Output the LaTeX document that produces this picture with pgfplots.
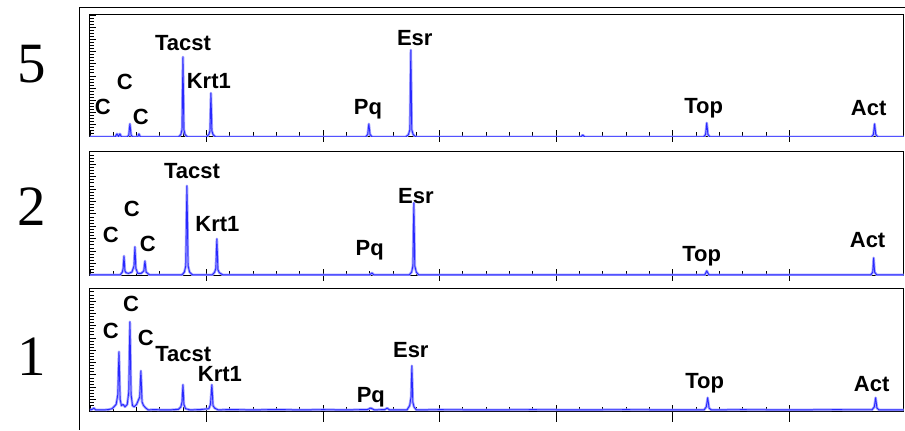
\documentclass[border=0pt]{standalone}
\usepackage{pgfplots}
\usepackage{pgfplotstable}
\pgfplotsset{compat=1.18}
\usepackage{fontspec}
\setmainfont{Liberation Sans}
\newfontfamily\numfont{Liberation Serif}

\definecolor{tracecol}{RGB}{40,40,255}
\definecolor{halocol}{RGB}{165,165,255}

% panel "5"
\pgfplotstableread{
x y
0 0
0.215 0
0.232 2.5
0.245 0.3
0.257 2.5
0.27 0
0.32 0
0.333 1.5
0.343 10.7
0.353 1.5
0.366 0
0.41 0
0.42 2.5
0.432 0
0.76 0
0.78 2
0.79 6
0.798 65.6
0.806 6
0.816 2
0.836 0
1.0 0
1.02 2
1.03 5
1.038 36
1.046 5
1.056 2
1.076 0
2.365 0
2.383 2
2.393 10.7
2.403 2
2.421 0
2.71 0
2.733 2
2.745 6
2.753 71.3
2.761 6
2.773 2
2.796 0
4.21 0
4.228 1.5
4.246 0
5.265 0
5.282 2
5.292 11.5
5.302 2
5.319 0
6.705 0
6.722 2
6.732 10.7
6.742 2
6.759 0
6.98 0
}\panelA

% panel "2"
\pgfplotstableread{
x y
0 0.8
0.26 0.8
0.278 3
0.285 6
0.292 16
0.300 4
0.31 2.5
0.33 2
0.36 3
0.378 8
0.386 23.4
0.394 6
0.41 2
0.44 2
0.462 4
0.472 12
0.482 3
0.51 0.8
0.79 0.8
0.81 3
0.822 8
0.832 72.6
0.842 8
0.855 3
0.88 0.8
1.05 0.8
1.07 3
1.08 6
1.089 29.8
1.098 5
1.11 2.5
1.14 0.8
2.40 0.8
2.419 2.4
2.435 0.8
2.74 0.8
2.76 3
2.771 8
2.779 58.9
2.787 8
2.80 3
2.82 0.8
5.275 0.8
5.292 4
5.31 0.8
6.70 0.8
6.716 3
6.724 14.5
6.732 3
6.75 0.8
6.98 0.8
}\panelB

% panel "1"
\pgfplotstableread{
x y
0 1.5
0.02 2
0.034 3
0.05 1.5
0.12 1.5
0.16 1.8
0.19 2.5
0.225 6
0.239 14
0.249 48.8
0.259 10
0.27 5
0.285 6
0.30 4
0.32 6
0.333 16
0.343 73.2
0.353 14
0.365 5
0.38 4
0.40 6
0.427 12
0.437 33.3
0.447 8
0.46 5
0.48 3
0.50 1.5
0.55 1.8
0.62 1.5
0.70 1.6
0.76 2
0.78 4
0.79 8
0.798 22
0.806 6
0.82 2.5
0.86 1.5
0.95 1.8
1.02 2.5
1.034 6
1.046 22
1.056 5
1.07 3
1.10 1.5
1.2 1.8
1.4 1.5
1.6 1.8
1.8 1.5
2.0 1.7
2.2 1.5
2.38 1.8
2.41 3
2.44 1.5
2.53 1.8
2.55 3
2.57 1.5
2.72 1.5
2.743 5
2.755 12
2.762 37.4
2.770 8
2.78 4
2.80 1.5
3.0 1.7
3.4 1.5
3.8 1.7
4.2 1.5
4.6 1.7
5.0 1.5
5.27 1.6
5.288 4
5.300 11.4
5.312 3
5.33 1.5
5.6 1.7
6.0 1.5
6.4 1.7
6.71 1.6
6.73 4
6.741 11.4
6.752 3
6.77 1.5
6.98 1.5
}\panelC

\pgfplotsset{
  panel/.style={
    scale only axis, width=814pt,
    xmin=0, xmax=6.98, ymin=0, ymax=100,
    xtick={0,...,6}, minor x tick num=4,
    ytick={0,10,...,100}, minor y tick num=3,
    xticklabels={}, yticklabels={},
    xtick pos=bottom, ytick pos=left,
    tick align=inside, major tick length=6.5pt, minor tick length=4.5pt,
    extra x ticks={1,...,6}, extra x tick labels={},
    extra x tick style={tick align=outside, major tick length=#1},
    axis line style={line width=1pt},
    tick style={black, line width=0.9pt},
  },
  glow/.style={halocol, line width=2.6pt, line join=round},
  core/.style={tracecol, line width=0.9pt, line join=round},
}
\tikzset{lbl/.style={font=\bfseries\fontsize{22}{22}\selectfont, inner sep=0pt}}

\begin{document}
\begin{tikzpicture}
\path (0,0) rectangle (905pt,430pt);
\draw[line width=1pt] (80pt,0) -- (80pt,422pt) -- (905pt,422pt);

\node[font=\numfont\fontsize{57}{57}\selectfont] at (32pt,366pt) {5};
\node[font=\numfont\fontsize{57}{57}\selectfont] at (32pt,223pt) {2};
\node[font=\numfont\fontsize{57}{57}\selectfont] at (32pt,73pt) {1};

\begin{axis}[panel=5pt, height=122pt, at={(90pt,293pt)}, anchor=south west]
  \addplot[glow] table {\panelA};
  \addplot[core] table {\panelA};
  \node[lbl] at (axis cs:0.111,24.6) {C};
  \node[lbl] at (axis cs:0.300,45.0) {C};
  \node[lbl] at (axis cs:0.437,16.5) {C};
  \node[lbl] at (axis cs:0.798,77) {Tacst};
  \node[lbl] at (axis cs:1.020,46) {Krt1};
  \node[lbl] at (axis cs:2.385,22.5) {Pq};
  \node[lbl] at (axis cs:2.787,81) {Esr};
  \node[lbl] at (axis cs:5.266,23.8) {Top};
  \node[lbl] at (axis cs:6.681,23.8) {Act};
\end{axis}

\begin{axis}[panel=5pt, height=124pt, at={(90pt,154pt)}, anchor=south west]
  \addplot[glow] table {\panelB};
  \addplot[core] table {\panelB};
  \node[lbl] at (axis cs:0.180,33) {C};
  \node[lbl] at (axis cs:0.360,54) {C};
  \node[lbl] at (axis cs:0.497,25.8) {C};
  \node[lbl] at (axis cs:0.875,84.7) {Tacst};
  \node[lbl] at (axis cs:1.094,42) {Krt1};
  \node[lbl] at (axis cs:2.400,21) {Pq};
  \node[lbl] at (axis cs:2.796,64.5) {Esr};
  \node[lbl] at (axis cs:5.249,16) {Top};
  \node[lbl] at (axis cs:6.672,29) {Act};
\end{axis}

\begin{axis}[panel=10pt, height=123pt, at={(90pt,18pt)}, anchor=south west]
  \addplot[glow] table {\panelC};
  \addplot[core] table {\panelC};
  \node[lbl] at (axis cs:0.180,65.9) {C};
  \node[lbl] at (axis cs:0.352,87.8) {C};
  \node[lbl] at (axis cs:0.480,60) {C};
  \node[lbl] at (axis cs:0.800,47) {Tacst};
  \node[lbl] at (axis cs:1.115,30.5) {Krt1};
  \node[lbl] at (axis cs:2.410,12.2) {Pq};
  \node[lbl] at (axis cs:2.753,50.4) {Esr};
  \node[lbl] at (axis cs:5.274,23.6) {Top};
  \node[lbl] at (axis cs:6.707,22.8) {Act};
\end{axis}
\end{tikzpicture}
\end{document}
